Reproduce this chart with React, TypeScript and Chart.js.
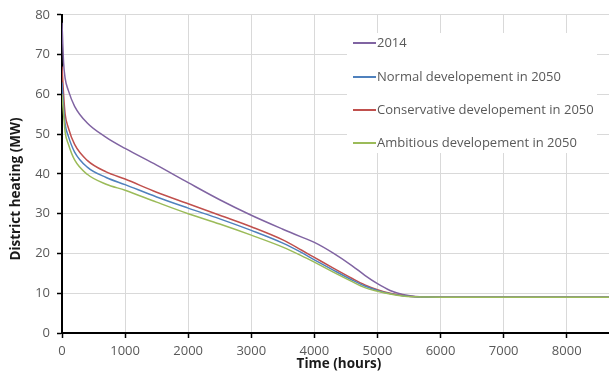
import React, { useEffect, useRef } from "react";
import { Chart, registerables } from "chart.js";

Chart.register(...registerables);

const hours = [0, 25, 50, 100, 200, 400, 700, 1000, 1500, 2000, 2500, 3000, 3500, 3800, 4000, 4300, 4600, 4800, 5000, 5200, 5400, 5600, 5800, 6000, 7000, 8000, 8760];

const series2014 = [78, 68, 64, 61, 57, 52.8, 49.2, 46.4, 42.2, 37.8, 33.5, 29.6, 26.1, 24.1, 22.8, 20.1, 16.9, 14.5, 12.4, 10.7, 9.7, 9.2, 9.05, 9, 9, 9, 9];
const seriesNormal = [63, 57, 52.5, 49.5, 45.5, 41.7, 39.1, 37.3, 34.2, 31.4, 28.7, 25.8, 22.6, 20.2, 18.4, 15.8, 13.3, 11.8, 10.7, 9.9, 9.35, 9.1, 9.02, 9, 9, 9, 9];
const seriesConservative = [67, 60, 55, 51.6, 47.4, 43.4, 40.5, 38.7, 35.4, 32.5, 29.6, 26.7, 23.4, 20.8, 19.0, 16.3, 13.7, 12.1, 10.9, 10, 9.4, 9.1, 9.02, 9, 9, 9, 9];
const seriesAmbitious = [60, 55, 50.5, 47.5, 43.5, 39.9, 37.4, 35.9, 32.9, 30.0, 27.4, 24.6, 21.6, 19.4, 17.8, 15.3, 12.9, 11.4, 10.5, 9.8, 9.3, 9.1, 9.02, 9, 9, 9, 9];

const xTickValues = [0, 1000, 2000, 3000, 4000, 5000, 6000, 7000, 8000];
const yTickValues = [0, 10, 20, 30, 40, 50, 60, 70, 80];

const labels = ["2014", "Normal developement in 2050", "Conservative developement in 2050", "Ambitious developement in 2050"];
const colors = ["#8064A2", "#4F81BD", "#C0504D", "#9BBB59"];
const yTitle = "District heating (MW)";
const xTitle = "Time (hours)";

const FONT = "'Open Sans', 'DejaVu Sans', sans-serif";

export default function App() {
  const ref = useRef<HTMLCanvasElement | null>(null);
  useEffect(() => {
    document.body.style.margin = "0";
    const all = [series2014, seriesNormal, seriesConservative, seriesAmbitious];
    const datasets = all.map((s, i) => ({
      label: labels[i],
      data: hours.map((h, j) => ({ x: h, y: s[j] })),
      borderColor: colors[i],
      backgroundColor: colors[i],
      borderWidth: 1.5,
      pointRadius: 0,
      cubicInterpolationMode: "monotone" as const,
      fill: false,
    }));
    const ordered = [datasets[3], datasets[1], datasets[2], datasets[0]];

    const legendAndTitles = {
      id: "legendAndTitles",
      afterDraw(chart: any) {
        const ctx = chart.ctx;
        ctx.save();
        ctx.fillStyle = "#ffffff";
        ctx.fillRect(347, 33, 250, 120);
        const ys = [43, 77, 110, 143];
        ctx.font = `13px ${FONT}`;
        ctx.textBaseline = "middle";
        ctx.textAlign = "left";
        for (let i = 0; i < 4; i++) {
          ctx.strokeStyle = colors[i];
          ctx.lineWidth = 2;
          ctx.beginPath();
          ctx.moveTo(353, ys[i]);
          ctx.lineTo(376, ys[i]);
          ctx.stroke();
          ctx.fillStyle = "#595959";
          ctx.fillText(labels[i], 377, ys[i]);
        }
        ctx.fillStyle = "#1a1a1a";
        ctx.font = `bold 13.5px ${FONT}`;
        ctx.textAlign = "center";
        ctx.textBaseline = "middle";
        ctx.fillText(xTitle, 339, 364);
        ctx.translate(16, 189);
        ctx.rotate(-Math.PI / 2);
        ctx.fillText(yTitle, 0, 0);
        ctx.restore();
      },
    };

    const chart = new Chart(ref.current as HTMLCanvasElement, {
      type: "line",
      data: { datasets: ordered },
      options: {
        animation: false,
        responsive: false,
        devicePixelRatio: 1,
        layout: { padding: { top: 13, right: 0, left: 0, bottom: 0 } },
        plugins: { legend: { display: false }, tooltip: { enabled: false } },
        scales: {
          x: {
            type: "linear",
            min: 0,
            max: 8670,
            afterBuildTicks: (scale: any) => {
              scale.ticks = xTickValues.map((v) => ({ value: v }));
            },
            afterFit: (scale: any) => {
              scale.height = 39;
            },
            ticks: {
              color: "#595959",
              font: { family: FONT, size: 13 },
              padding: 5,
              maxRotation: 0,
              minRotation: 0,
              autoSkip: false,
              callback: (v: any) => String(v),
            },
            grid: { color: "#d9d9d9", lineWidth: 1, tickColor: "#000", tickLength: 5, tickWidth: 1.5 },
            border: { color: "#000", width: 2 },
          },
          y: {
            type: "linear",
            min: 0,
            max: 80,
            afterBuildTicks: (scale: any) => {
              scale.ticks = yTickValues.map((v) => ({ value: v }));
            },
            afterFit: (scale: any) => {
              scale.width = 62;
            },
            ticks: { color: "#595959", font: { family: FONT, size: 13 }, padding: 7, autoSkip: false, callback: (v: any) => String(v) },
            grid: { color: "#d9d9d9", lineWidth: 1, tickColor: "#000", tickLength: 5, tickWidth: 1.5 },
            border: { color: "#000", width: 2 },
          },
        },
      },
      plugins: [legendAndTitles],
    });
    return () => chart.destroy();
  }, []);
  return (
    <div style={{ position: "fixed", left: 0, top: 0, width: 609, height: 372, background: "#fff" }}>
      <canvas ref={ref} width={609} height={372} style={{ width: 609, height: 372 }} />
    </div>
  );
}
